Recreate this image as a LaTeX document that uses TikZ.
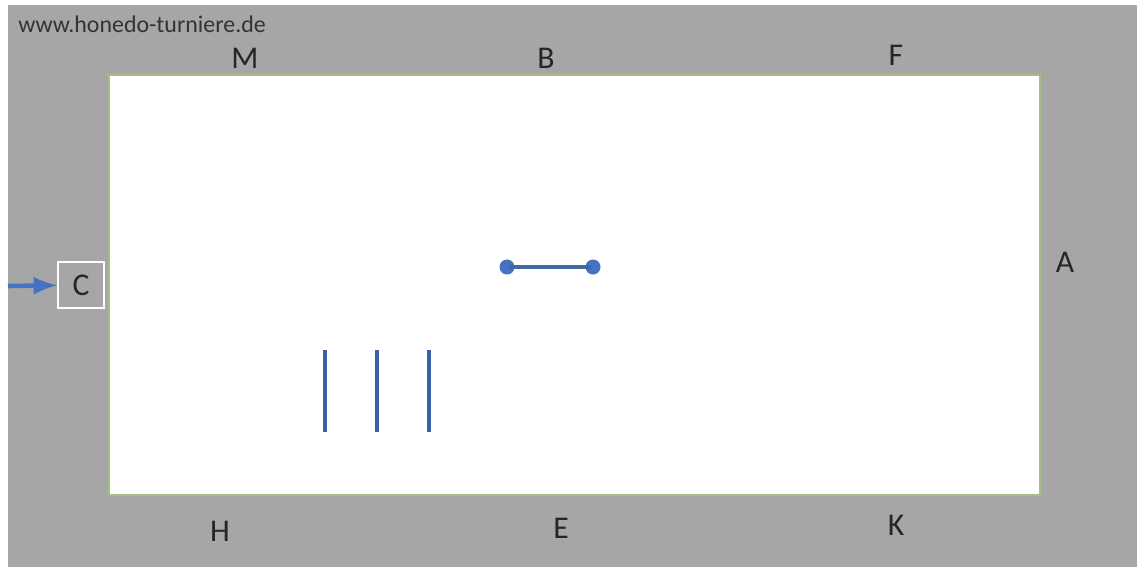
\documentclass[tikz,border=0pt]{standalone}
\usepackage{fontspec}
\setmainfont{Carlito}
\usepackage{xcolor}
\usetikzlibrary{positioning}
\definecolor{hallgray}{RGB}{166,166,166}
\definecolor{fencegreen}{RGB}{165,190,135}
\definecolor{markblue}{RGB}{68,114,196}
\definecolor{lineblue}{RGB}{65,105,160}

\begin{document}
\begin{tikzpicture}[x=0.01cm, y=-0.01cm, thick,
  letter/.style = {font=\fontsize{9}{10}\selectfont, text=black!85, inner sep=0pt},
  dot/.style = {fill=markblue, circle, inner sep=0pt, minimum size=0.15cm},
  pole/.style = {draw=lineblue, line width=0.9pt}]
\useasboundingbox (0,0) rectangle (1137,567);
\fill[hallgray] (8,5) rectangle (1137,567);
\fill[white, draw=fencegreen, line width=0.6pt] (109,75) rectangle (1040,495);
\node[anchor=west, inner sep=0pt, text=black!80, font=\fontsize{6.8}{8}\selectfont] (url) at (17,24) {www.honedo-turniere.de};
% letters
\node[letter] (M) at (245,58) {M};
\node[letter] (B) at (546,58) {B};
\node[letter] (F) at (896,55) {F};
\node[letter] (A) at (1065,262) {A};
\node[letter] (H) at (220,531) {H};
\node[letter] (E) at (561,528) {E};
\node[letter] (K) at (896,525) {K};
\node[letter, draw=white, line width=0.45pt, minimum size=0.46cm] (C) at (81,285) {C};
\coordinate (start) at (8,286);
\draw[->, >=latex, markblue, line width=1.3pt] (start) -- (C);
% dumbbell
\node[dot] (d1) at (507,267) {};
\node[dot] (d2) at (593,267) {};
\draw[pole, shorten <=-2pt, shorten >=-2pt] (d1) -- (d2);
% poles
\foreach \x [count=\i] in {325,377,429} {
  \coordinate (top\i) at (\x,350);
  \coordinate (bot\i) at (\x,432);
  \draw[pole, draw=markblue!85!black] (top\i) -- (bot\i);
}
\end{tikzpicture}
\end{document}
